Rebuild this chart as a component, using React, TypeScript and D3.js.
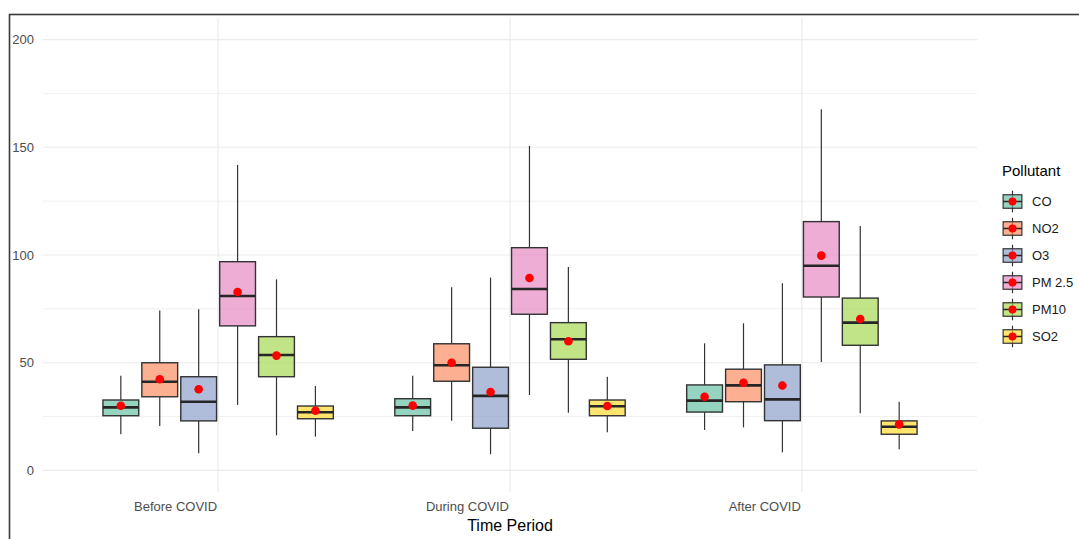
import * as d3 from "d3";

const periods = ["Before COVID", "During COVID", "After COVID"];
const pollutants = ["CO", "NO2", "O3", "PM 2.5", "PM10", "SO2"];
const fills = ["#66C2A5", "#FC8D62", "#8DA0CB", "#E78AC3", "#A6D854", "#FFD92F"];

// rows = period, columns = pollutant
const whiskerLow = [
  [16.8, 20.6, 8.0, 30.4, 16.3, 15.7],
  [18.3, 23.1, 7.5, 35.0, 26.8, 17.7],
  [18.8, 20.0, 8.4, 50.3, 26.5, 9.8],
];
const q1 = [
  [25.4, 34.2, 23.0, 67.1, 43.5, 24.0],
  [25.4, 41.4, 19.6, 72.5, 51.6, 25.4],
  [27.1, 31.9, 23.1, 80.5, 58.1, 16.8],
];
const medians = [
  [29.3, 41.2, 31.9, 81.0, 53.6, 27.0],
  [29.3, 48.8, 34.6, 84.2, 60.9, 29.8],
  [32.4, 39.5, 33.0, 95.0, 68.6, 20.3],
];
const q3 = [
  [32.7, 50.0, 43.5, 96.9, 62.1, 29.9],
  [33.3, 58.8, 47.9, 103.4, 68.6, 32.7],
  [39.7, 47.0, 49.0, 115.5, 80.0, 23.0],
];
const whiskerHigh = [
  [43.9, 74.2, 74.8, 141.8, 88.7, 39.2],
  [44.0, 85.0, 89.5, 150.6, 94.4, 43.5],
  [59.0, 68.3, 86.9, 167.7, 113.5, 31.9],
];
const means = [
  [30.0, 42.3, 37.7, 82.8, 53.3, 27.7],
  [30.1, 50.0, 36.4, 89.3, 60.0, 29.9],
  [34.2, 40.7, 39.4, 99.7, 70.3, 21.4],
];

const majorTicks = [0, 50, 100, 150, 200];
const minorTicks = [25, 75, 125, 175];

const W = 1079;
const H = 539;
const font = "Arial, 'Liberation Sans', Helvetica, sans-serif";

export default function App() {
  // panel area
  const left = 43;
  const right = 977;
  const top = 18;
  const bottom = 492;

  const y = d3.scaleLinear().domain([-10, 210]).range([bottom, top]);
  const x = d3.scalePoint<string>().domain(periods).range([left, right]).padding(0.6);
  const step = x.step();
  const inner = d3
    .scaleBand<string>()
    .domain(pollutants)
    .range([-0.4 * step, 0.4 * step]);
  const boxW = inner.bandwidth() * 0.92;
  const color = d3.scaleOrdinal<string, string>().domain(pollutants).range(fills);

  // legend
  const keyX = 1000;
  const keyW = 25;
  const keyH = 27;
  const keyTop = 188;

  return (
    <svg
      width={W}
      height={H}
      style={{ position: "absolute", left: 0, top: 0, display: "block", background: "#fff" }}
      fontFamily={font}
    >
      <rect x={0} y={0} width={W} height={H} fill="#fff" />

      {/* grid */}
      {minorTicks.map((t) => (
        <line key={"mi" + t} x1={left} x2={right} y1={y(t)} y2={y(t)} stroke="#F0F0F0" strokeWidth={1} />
      ))}
      {majorTicks.map((t) => (
        <line key={"ma" + t} x1={left} x2={right} y1={y(t)} y2={y(t)} stroke="#EBEBEB" strokeWidth={1.2} />
      ))}
      {periods.map((p) => (
        <line key={"v" + p} x1={x(p)} x2={x(p)} y1={top} y2={bottom} stroke="#EBEBEB" strokeWidth={1.2} />
      ))}

      {/* y axis labels */}
      {majorTicks.map((t) => (
        <text key={"yl" + t} x={34} y={y(t)} dy="0.35em" textAnchor="end" fontSize={13} fill="#4D4D4D">
          {t}
        </text>
      ))}

      {/* x axis labels */}
      {periods.map((p) => (
        <text key={"xl" + p} x={(x(p) as number) - 1} y={511} textAnchor="end" fontSize={13} fill="#4D4D4D">
          {p}
        </text>
      ))}
      <text x={(left + right) / 2 - 0} y={531} textAnchor="middle" fontSize={16} fill="#000">
        Time Period
      </text>

      {/* boxes */}
      {periods.map((p, i) =>
        pollutants.map((pol, j) => {
          const cx = (x(p) as number) + (inner(pol) as number) + inner.bandwidth() / 2;
          return (
            <g key={p + pol}>
              <line x1={cx} x2={cx} y1={y(whiskerHigh[i][j])} y2={y(q3[i][j])} stroke="#333" strokeWidth={1.2} />
              <line x1={cx} x2={cx} y1={y(q1[i][j])} y2={y(whiskerLow[i][j])} stroke="#333" strokeWidth={1.2} />
              <rect
                x={cx - boxW / 2}
                y={y(q3[i][j])}
                width={boxW}
                height={y(q1[i][j]) - y(q3[i][j])}
                fill={color(pol)}
                fillOpacity={0.7}
                stroke="#333"
                strokeWidth={1.4}
              />
              <line
                x1={cx - boxW / 2}
                x2={cx + boxW / 2}
                y1={y(medians[i][j])}
                y2={y(medians[i][j])}
                stroke="#262626"
                strokeWidth={2.6}
              />
              <circle cx={cx} cy={y(means[i][j])} r={4.3} fill="#FF0000" />
            </g>
          );
        })
      )}

      {/* legend */}
      <text x={1002} y={176} fontSize={15} fill="#000">
        Pollutant
      </text>
      {pollutants.map((pol, j) => {
        const ky = keyTop + j * keyH;
        const cx = keyX + keyW / 2;
        const cy = ky + keyH / 2;
        return (
          <g key={"lg" + pol}>
            <line x1={cx} x2={cx} y1={ky + keyH * 0.1} y2={ky + keyH * 0.9} stroke="#333" strokeWidth={1.2} />
            <rect
              x={keyX + keyW * 0.125}
              y={ky + keyH * 0.25}
              width={keyW * 0.75}
              height={keyH * 0.5}
              fill={color(pol)}
              fillOpacity={0.7}
              stroke="#333"
              strokeWidth={1.2}
            />
            <line x1={keyX + keyW * 0.125} x2={keyX + keyW * 0.875} y1={cy} y2={cy} stroke="#262626" strokeWidth={1.5} />
            <circle cx={cx} cy={cy} r={4} fill="#FF0000" />
            <text x={1032} y={cy} dy="0.35em" fontSize={13} fill="#1A1A1A">
              {pol}
            </text>
          </g>
        );
      })}

      {/* outer frame */}
      <rect x={9.5} y={14.5} width={W + 20} height={H + 20} fill="none" stroke="#3A3A3A" strokeWidth={1.6} />
    </svg>
  );
}
